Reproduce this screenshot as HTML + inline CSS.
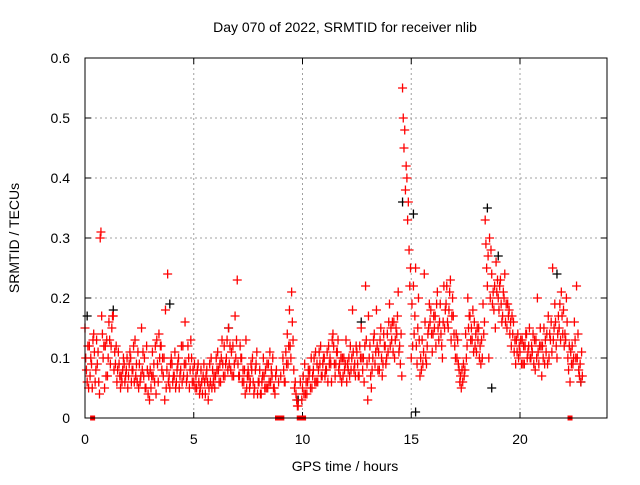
<!DOCTYPE html>
<html><head><meta charset="utf-8"><style>
html,body{margin:0;padding:0;background:#fff}
svg text{font-family:"Liberation Sans",sans-serif;fill:#000}
</style></head><body>
<svg id="chart" width="640" height="480" viewBox="0 0 640 480">
<rect width="640" height="480" fill="#fff"/>
<text x="345" y="32" font-size="14" text-anchor="middle">Day 070 of 2022, SRMTID for receiver nlib</text>
<text x="345" y="471" font-size="14" text-anchor="middle">GPS time / hours</text>
<text transform="translate(19,238) rotate(-90)" font-size="14" text-anchor="middle">SRMTID / TECUs</text>
<g id="grid"></g>
<g id="ticks"></g>
<g id="black"></g>
<g id="red"></g>
<g id="gaps"></g>
<rect x="85" y="58" width="522" height="360" fill="none" stroke="#000" stroke-width="1"/>
</svg>
<script>
const xTicks=[0,5,10,15,20];
const yTicks=[0,0.1,0.2,0.3,0.4,0.5,0.6];
const yTickLabels=["0","0.1","0.2","0.3","0.4","0.5","0.6"];
const tStart=0, tStep=0.1;
const red1=[0.15,0.06,0.12,0.09,0.14,0.08,0.11,0.30,0.14,0.05,0.13,0.16,0.12,0.17,0.09,0.08,0.07,0.06,0.09,0.08,0.07,0.10,0.08,0.13,0.06,0.09,0.15,0.07,0.05,0.04,0.08,0.11,0.06,0.13,0.14,0.12,0.07,0.18,0.24,0.05,0.09,0.07,0.06,0.10,0.08,0.12,0.16,0.07,0.05,0.10,0.06,0.07,0.09,0.05,0.04,0.06,0.08,0.05,0.10,0.06,0.07,0.11,0.09,0.13,0.12,0.10,0.15,0.08,0.12,0.17,0.23,0.07,0.10,0.06,0.13,0.08,0.06,0.10,0.05,0.11,0.06,0.04,0.10,0.08,0.05,0.11,0.07,0.05,0.08,0.06,0.07,0.10,0.06,0.14,0.18,0.21,0.08,0.04,0.02,0.06,0.05,0.09,0.04,0.07,0.10,0.08,0.11,0.06,0.09,0.07,0.10,0.08,0.12,0.09,0.14,0.07,0.11,0.09,0.06,0.10,0.13,0.08,0.12,0.18,0.09,0.11,0.07,0.15,0.10,0.22,0.03,0.12,0.08,0.14,0.18,0.11,0.15,0.09,0.12,0.14,0.19,0.13,0.16,0.15,0.21,0.09,0.55,0.48,0.40,0.28,0.10,0.22,0.25,0.15,0.07,0.13,0.24,0.09,0.15,0.18,0.14,0.17,0.21,0.16,0.12,0.22,0.19,0.15,0.23,0.20,0.12,0.10,0.08,0.05,0.09,0.14,0.20,0.17,0.13,0.16,0.11,0.15,0.09,0.19,0.33,0.22,0.30,0.24,0.18,0.26,0.20,0.23,0.17,0.24,0.15,0.18,0.12,0.16,0.09,0.14,0.11,0.13,0.09,0.14,0.12,0.10,0.14,0.08,0.20,0.12,0.07,0.15,0.11,0.17,0.13,0.25,0.19,0.10,0.15,0.21,0.18,0.13,0.10,0.06,0.12,0.16,0.22,0.08,0.06];
const red2=[0.10,0.12,0.07,0.05,0.11,0.13,0.06,0.31,0.10,0.12,0.07,0.13,0.15,0.08,0.12,0.11,0.05,0.08,0.06,0.10,0.09,0.06,0.12,0.07,0.11,0.06,0.08,0.10,0.12,0.07,0.05,0.07,0.12,0.09,0.10,0.08,0.10,0.05,0.06,0.09,0.06,0.11,0.08,0.05,0.12,0.07,0.09,0.12,0.08,0.06,0.09,0.05,0.06,0.08,0.07,0.04,0.06,0.09,0.05,0.07,0.10,0.08,0.06,0.09,0.07,0.13,0.09,0.11,0.07,0.10,0.09,0.12,0.06,0.08,0.05,0.07,0.09,0.06,0.08,0.04,0.08,0.06,0.07,0.05,0.09,0.06,0.10,0.04,null,null,null,0.08,0.11,0.09,0.12,0.16,0.05,0.03,null,null,0.07,0.04,0.06,0.08,0.05,0.10,0.06,0.08,0.12,0.09,0.07,0.11,0.09,0.06,0.12,0.09,0.13,0.07,0.10,0.08,0.06,0.10,0.08,0.11,0.07,0.09,0.12,0.10,0.06,0.13,0.17,0.07,0.10,0.09,0.12,0.08,0.10,0.14,0.09,0.11,0.12,0.16,0.10,0.14,0.11,0.14,0.50,0.38,0.33,0.22,0.19,0.14,0.12,0.20,0.10,0.09,0.16,0.12,0.19,0.14,0.17,0.12,0.15,0.19,0.10,0.15,0.22,0.18,0.13,0.17,0.10,0.13,0.06,0.08,0.07,0.10,0.15,0.13,0.18,0.12,0.15,0.10,0.13,0.14,0.29,0.27,0.20,0.19,0.22,0.21,0.18,0.19,0.21,0.16,0.19,0.14,0.17,0.11,0.13,0.10,0.13,0.09,0.12,0.10,0.15,0.12,0.09,0.13,0.11,0.15,0.12,0.09,0.14,0.10,0.16,0.13,0.16,0.14,0.19,0.17,0.12,0.20,0.08,0.11,0.09,0.13,0.10,0.07,0.11];
const red3=[0.08,0.05,0.10,0.13,0.06,0.09,0.04,0.17,0.12,0.07,0.10,0.09,0.17,0.11,0.06,0.09,0.07,0.10,0.07,0.05,0.11,0.08,0.06,0.09,0.05,0.07,0.11,0.05,0.08,0.03,0.07,0.09,0.04,0.06,0.12,0.10,0.03,0.08,0.07,0.10,0.07,0.05,0.09,0.07,0.06,0.09,0.06,0.10,0.13,0.08,0.05,0.08,0.04,0.06,0.09,0.07,0.03,0.06,0.08,0.05,0.08,0.06,0.10,0.07,0.09,0.08,0.12,0.07,0.09,0.13,0.07,0.10,0.08,0.04,0.07,0.05,0.08,0.04,0.09,0.06,0.04,0.07,0.05,0.09,0.06,0.08,0.05,0.07,null,null,null,0.06,0.09,0.12,0.10,0.13,0.06,0.02,null,0.03,0.04,0.06,0.08,0.05,0.07,0.06,0.09,0.11,0.07,0.10,0.08,0.06,0.10,0.13,0.09,0.11,0.08,0.10,0.07,0.09,0.09,0.07,0.10,0.08,0.12,0.07,0.10,0.08,0.12,0.09,0.10,0.05,0.13,0.11,0.08,0.13,0.07,0.12,0.10,0.16,0.15,0.11,0.13,0.17,0.12,0.07,0.45,0.42,0.36,0.25,0.12,0.17,0.09,0.13,0.08,0.11,0.10,0.14,0.16,0.11,0.15,0.19,0.13,0.14,0.16,0.18,0.16,0.21,0.17,0.14,0.14,0.09,0.07,0.06,0.08,0.12,0.17,0.15,0.11,0.14,0.13,0.12,0.10,0.16,0.25,0.10,0.28,0.21,0.15,0.23,0.22,0.16,0.20,0.19,0.17,0.16,0.14,0.13,0.11,0.12,0.09,0.12,0.14,0.11,0.10,0.11,0.13,0.10,0.09,0.12,0.10,0.13,0.09,0.14,0.11,0.15,0.12,0.17,0.13,0.14,0.14,0.16,0.12,0.09,0.10,0.10,0.14,0.09,0.07];
const blackT=[0.1,1.3,3.9,6.6,9.8,12.7,14.6,15.1,15.2,18.5,18.7,19.0,21.7,22.8];
const blackV=[0.17,0.18,0.19,0.15,0.03,0.16,0.36,0.34,0.01,0.35,0.05,0.27,0.24,0.06];
const gapT=[0.35,8.85,8.95,9.05,9.85,9.95,10.05,22.3];

const NS="http://www.w3.org/2000/svg";
const X0=85,X1=607,Y0=418,Y1=58,XMAX=24,YMAX=0.6;
function xs(t){return X0+(X1-X0)*t/XMAX;}
function ys(v){return Y0-(Y0-Y1)*v/YMAX;}
function mk(tag,attrs,parent){const e=document.createElementNS(NS,tag);for(const k in attrs)e.setAttribute(k,attrs[k]);parent.appendChild(e);return e;}
const grid=document.getElementById('grid'),ticks=document.getElementById('ticks');
xTicks.forEach(t=>{
  const x=xs(t);
  if(t>0){const g=mk('line',{x1:x,x2:x,y1:Y1,y2:Y0,stroke:'#a0a0a0','stroke-dasharray':'2,3'},grid);
  
  }
  mk('line',{x1:x,x2:x,y1:Y0,y2:Y0-6,stroke:'#000'},ticks);
  mk('line',{x1:x,x2:x,y1:Y1,y2:Y1+6,stroke:'#000'},ticks);
  const tx=mk('text',{x:x,y:Y0+26,'font-size':'14','text-anchor':'middle'},ticks);
  tx.textContent=t;
  
  
});
yTicks.forEach((v,i)=>{
  const y=ys(v);
  if(v>0&&v<YMAX){const g=mk('line',{x1:X0,x2:X1,y1:y,y2:y,stroke:'#a0a0a0','stroke-dasharray':'2,3'},grid);
  
  }
  mk('line',{x1:X0,x2:X0+6,y1:y,y2:y,stroke:'#000'},ticks);
  mk('line',{x1:X1,x2:X1-6,y1:y,y2:y,stroke:'#000'},ticks);
  const tx=mk('text',{x:X0-15,y:y+5,'font-size':'14','text-anchor':'end'},ticks);
  tx.textContent=yTickLabels[i];
  
  
});
function plus(t,v,col,parent){
  const x=xs(t),y=ys(v);
  const p=mk('path',{d:`M${x-4.5},${y}H${x+4.5}M${x},${y-4.5}V${y+4.5}`,stroke:col,'stroke-width':'1.3',fill:'none'},parent);
  
  
}
const blk=document.getElementById('black'),red=document.getElementById('red');
blackT.forEach((t,i)=>plus(t,blackV[i],'#000',blk));
[[red1,0],[red2,0.033],[red3,0.066]].forEach(([arr,off])=>{
  arr.forEach((v,i)=>{if(v!==null)plus(tStart+i*tStep+off,v,'#f00',red);});
});
const gaps=document.getElementById('gaps');
gapT.forEach(t=>{
  const r=mk('rect',{x:xs(t)-2.5,y:Y0-2.5,width:5,height:5,fill:'#f00'},gaps);
  
  
});
</script>
</body></html>
